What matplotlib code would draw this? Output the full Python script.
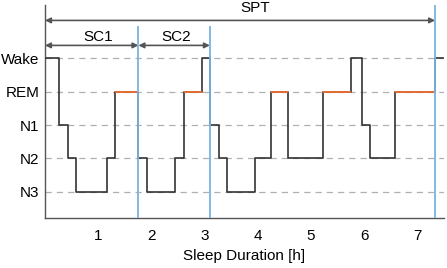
import numpy as np
import matplotlib
matplotlib.use("Agg")
import matplotlib.pyplot as plt

plt.rcParams['font.family'] = ['Liberation Sans', 'DejaVu Sans']

# stage codes: N3=1, N2=2, N1=3, REM=4, Wake=5
stage_names = ['N3', 'N2', 'N1', 'REM', 'Wake']
stage_levels = [1, 2, 3, 4, 5]

# change points [h] and stage held from each point
t_edges = [0.0, 0.265, 0.43, 0.585, 1.165, 1.32, 1.757, 1.925, 2.45, 2.61,
           2.95, 3.10, 3.27, 3.43, 3.95, 4.25, 4.57, 5.23, 5.745, 5.96,
           6.115, 6.59, 7.335, 7.48]
stages = [5, 3, 2, 1, 2, 4, 2, 1, 2, 4, 5, 3, 2, 1, 2, 4, 2, 4, 5, 3, 2, 4, 5]

cycle_bounds = [1.757, 3.10]
spt_end = 7.335
xticks = [1, 2, 3, 4, 5, 6, 7]

fig = plt.figure(figsize=(4.47, 2.68), dpi=100)
ax = fig.add_axes([0.1007, 0.1866, 0.8923, 0.7944])

for lv in stage_levels:
    ax.axhline(lv, color='#b0b0b0', lw=0.9, ls=(0, (5, 4)), zorder=1)

yy = stages + [stages[-1]]
ax.step(t_edges, yy, where='post', color='#333333', lw=1.2, zorder=3)

# REM periods in orange
for i, s in enumerate(stages):
    if s == 4:
        ax.plot([t_edges[i], t_edges[i + 1]], [4, 4], color='#f07030', lw=1.3,
                zorder=4, solid_capstyle='butt')

for xb in cycle_bounds:
    ax.plot([xb, xb], [0.21, 5.93], color='#7ab3e0', lw=1.3, zorder=5)
ax.plot([spt_end, spt_end], [0.21, 6.6], color='#7ab3e0', lw=1.3, zorder=5)

arr = dict(arrowstyle='<|-|>', color='#555555', lw=1.2, mutation_scale=8,
           shrinkA=0, shrinkB=0)
ax.annotate('', xy=(0.0, 6.14), xytext=(spt_end, 6.14), arrowprops=arr,
            annotation_clip=False)
ax.annotate('', xy=(0.0, 5.39), xytext=(cycle_bounds[0], 5.39), arrowprops=arr)
ax.annotate('', xy=(cycle_bounds[0], 5.39), xytext=(cycle_bounds[1], 5.39),
            arrowprops=arr)
ax.text(3.95, 6.5, 'SPT', ha='center', va='center', fontsize=11)
ax.text(1.0, 5.63, 'SC1', ha='center', va='center', fontsize=11)
ax.text(2.46, 5.63, 'SC2', ha='center', va='center', fontsize=11)

ax.set_xlim(0, 7.5)
ax.set_ylim(0.21, 6.6)
ax.set_xticks(xticks)
ax.set_yticks(stage_levels)
ax.set_yticklabels(stage_names)
ax.tick_params(axis='x', length=0, labelsize=11, pad=8)
ax.tick_params(axis='y', length=0, labelsize=11, pad=4)
ax.set_xlabel('Sleep Duration [h]', fontsize=11, labelpad=4)
for side in ['top', 'right']:
    ax.spines[side].set_visible(False)
for side in ['left', 'bottom']:
    ax.spines[side].set_color('#555555')
    ax.spines[side].set_linewidth(1.0)

fig.savefig('out.png', dpi=100)
